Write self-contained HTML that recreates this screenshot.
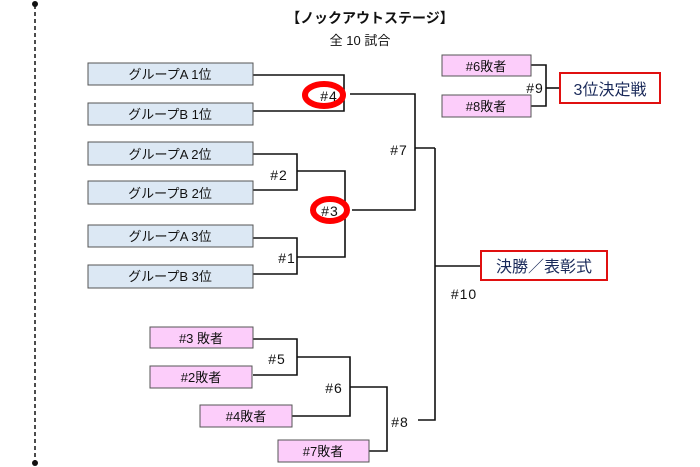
<!DOCTYPE html>
<html><head><meta charset="utf-8"><style>
html,body{margin:0;padding:0;background:#fff;}
svg{display:block;}
text{font-family:"Liberation Sans","Noto Sans CJK JP",sans-serif;font-size:13px;fill:#111;}
.n{font-size:14px;letter-spacing:1px;}
</style></head><body>
<svg width="700" height="467" viewBox="0 0 700 467" xmlns="http://www.w3.org/2000/svg">
<line x1="35" y1="5" x2="35" y2="462" stroke="#111" stroke-width="1.5" stroke-dasharray="4,3"/>
<circle cx="35" cy="4" r="3" fill="#111"/><circle cx="35" cy="463" r="3" fill="#111"/>
<text x="370" y="23" text-anchor="middle" font-weight="bold" style="font-size:14px">【ノックアウトステージ】</text>
<text x="360" y="45" text-anchor="middle">全  10 試合</text>
<g fill="none" stroke="#111" stroke-width="1.6">
<polyline points="253,75 344,75 344,111 253,111"/>
<polyline points="350,94 415,94 415,210 352,210"/>
<polyline points="415,148 435,148"/>
<polyline points="253,154 297,154 297,190 253,190"/>
<polyline points="297,171 345,171 345,257 297,257"/>
<polyline points="253,238 297,238 297,274 253,274"/>
<polyline points="253,339 297,339 297,375 253,375"/>
<polyline points="297,357 350,357 350,416 292,416"/>
<polyline points="350,387 387,387 387,451 369,451"/>
<polyline points="418,420 435,420 435,148"/>
<polyline points="435,266 481,266"/>
<polyline points="531,65 546,65 546,106 531,106"/>
<polyline points="546,88 560,88"/>
</g>
<g stroke="#555" stroke-width="1">
<rect x="88" y="63" width="165" height="22" fill="#dce8f4"/>
<rect x="88" y="103" width="165" height="22" fill="#dce8f4"/>
<rect x="88" y="142" width="165" height="23" fill="#dce8f4"/>
<rect x="88" y="181" width="165" height="23" fill="#dce8f4"/>
<rect x="88" y="225" width="165" height="22" fill="#dce8f4"/>
<rect x="88" y="265" width="165" height="23" fill="#dce8f4"/>
<rect x="150" y="327" width="103" height="21" fill="#fccdfa"/>
<rect x="150" y="366" width="102" height="22" fill="#fccdfa"/>
<rect x="200" y="405" width="92" height="22" fill="#fccdfa"/>
<rect x="278" y="440" width="91" height="22" fill="#fccdfa"/>
<rect x="442" y="55" width="89" height="21" fill="#fccdfa"/>
<rect x="442" y="95" width="89" height="22" fill="#fccdfa"/>
</g>
<rect x="560" y="73" width="100" height="30" fill="#fff" stroke="#e01010" stroke-width="2"/>
<rect x="481" y="251" width="126" height="29" fill="#fff" stroke="#e01010" stroke-width="2"/>
<ellipse cx="324" cy="95" rx="19" ry="11" fill="none" stroke="#ff0000" stroke-width="6"/>
<ellipse cx="330" cy="210" rx="17" ry="11" fill="none" stroke="#ff0000" stroke-width="6"/>
<g text-anchor="middle">
<text x="170" y="79">グループA 1位</text>
<text x="170" y="119">グループB 1位</text>
<text x="170" y="159">グループA 2位</text>
<text x="170" y="198">グループB 2位</text>
<text x="170" y="241">グループA 3位</text>
<text x="170" y="281">グループB 3位</text>
<text x="201" y="343">#3 敗者</text>
<text x="201" y="382">#2敗者</text>
<text x="246" y="421">#4敗者</text>
<text x="323" y="456">#7敗者</text>
<text x="486" y="71">#6敗者</text>
<text x="486" y="111">#8敗者</text>
<text x="610" y="95" style="font-size:16px;fill:#1a2a5a">3位決定戦</text>
<text x="544" y="272" style="font-size:16px;fill:#1a2a5a">決勝／表彰式</text>
<text class="n" x="329" y="101">#4</text>
<text class="n" x="330" y="216">#3</text>
<text class="n" x="399" y="155">#7</text>
<text class="n" x="279" y="180">#2</text>
<text class="n" x="287" y="263">#1</text>
<text class="n" x="277" y="364">#5</text>
<text class="n" x="334" y="393">#6</text>
<text class="n" x="400" y="427">#8</text>
<text class="n" x="464" y="299">#10</text>
<text class="n" x="535" y="93">#9</text>
</g>
</svg>
</body></html>
